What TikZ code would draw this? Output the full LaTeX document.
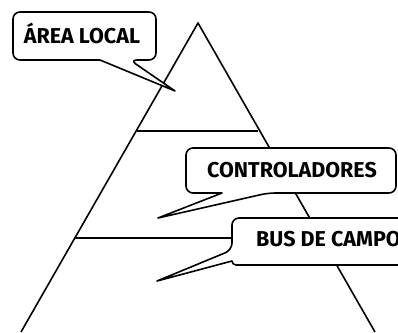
\documentclass[tikz,border=0pt]{standalone}
\usepackage{fontspec}
\setmainfont{Fira Sans}
\begin{document}
\begin{tikzpicture}[x=1pt, y=-1pt, line join=round]
	\tikzstyle{pyr} = [black, line width=1.6pt];
	\tikzstyle{bubble} = [pyr, fill=white];
	\tikzstyle{tag} = [inner sep=0pt, font={\bfseries\fontsize{21.5}{24}\selectfont}];
	
	\clip (0,0) rectangle (398,332);
	
	% pyramid
	\coordinate (top) at (198,23);
	\coordinate (bl) at (21,332);
	\coordinate (br) at (375,332);
	\coordinate (l1) at (137,131);
	\coordinate (r1) at (258,131);
	\coordinate (l2) at (75,238);
	\coordinate (r2) at (321,238);
	\draw[pyr] (bl) -- (top) -- (br);
	\draw[pyr] (l1) -- (r1);
	\draw[pyr] (l2) -- (r2);
	
	% callouts
	\coordinate (tipal) at (175,91);
	\coordinate (tipct) at (158,218);
	\coordinate (tipbc) at (157,281);
	\draw[bubble] [rounded corners=7pt] (13,12) -- (156,12) -- (156,60) -- (130,60)
		[sharp corners] -- (tipal) -- (100,60) [rounded corners=7pt] -- (13,60) -- cycle;
	\draw[bubble] [rounded corners=7pt] (186,148) -- (396,148) -- (396,193) -- (268,193)
		[sharp corners] -- (tipct) -- (222,193) [rounded corners=7pt] -- (186,193) -- cycle;
	\draw[bubble] [rounded corners=7pt] (430,218) -- (232,218) -- (232,250)
		[sharp corners] -- (tipbc) -- (232,261) [rounded corners=4pt] -- (232,265) -- (430,265) -- cycle;
	
	\node[tag, anchor=base] (al) at (82,43) {ÁREA LOCAL};
	\node[tag, anchor=base] (ct) at (292,177) {CONTROLADORES};
	\node[tag, anchor=base west] (bc) at (256,246) {BUS DE CAMPO};
\end{tikzpicture}
\end{document}
